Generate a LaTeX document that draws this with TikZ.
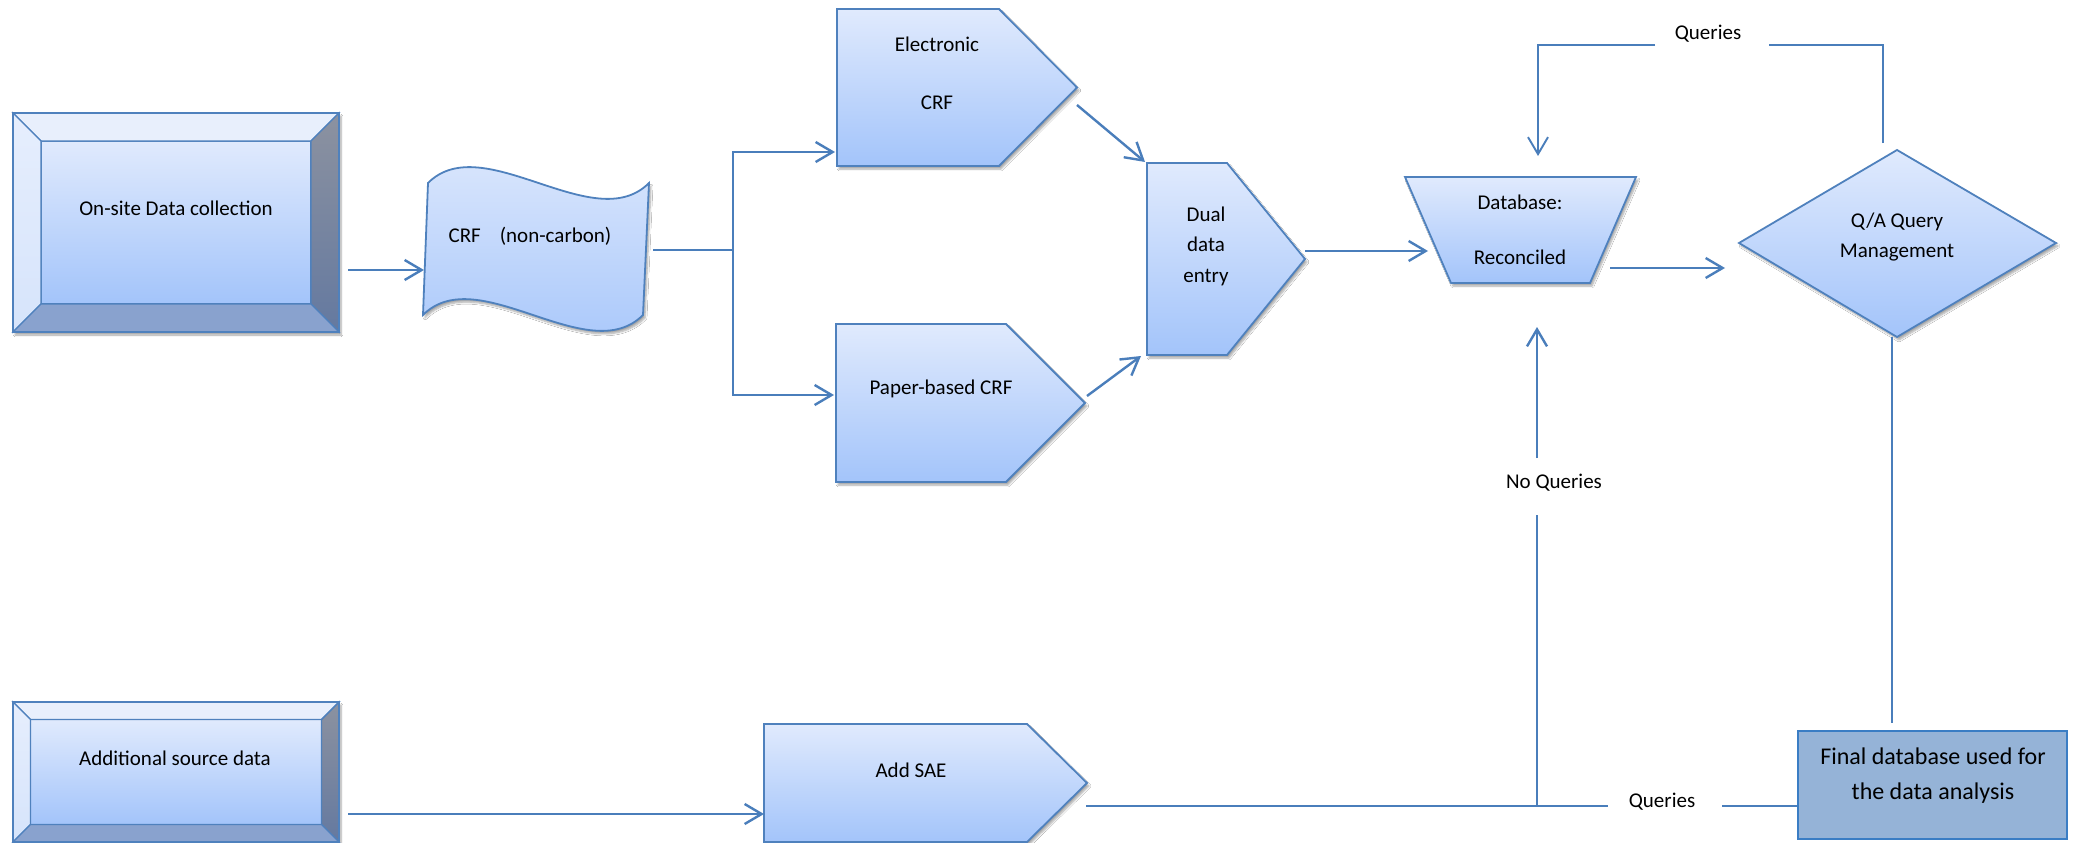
\documentclass[tikz,border=0pt]{standalone}
\usepackage{fontspec}
\setmainfont{Carlito}
\usetikzlibrary{calc,arrows.meta,shadows.blur}

\definecolor{edge}{RGB}{79,129,189}
\definecolor{wire}{RGB}{74,126,187}
\definecolor{fillTop}{RGB}{224,234,253}
\definecolor{fillBot}{RGB}{163,196,250}
\definecolor{bevTop}{RGB}{232,239,252}
\definecolor{bevLeftA}{RGB}{230,238,253}
\definecolor{bevLeftB}{RGB}{214,228,251}
\definecolor{bevRightA}{RGB}{140,146,160}
\definecolor{bevRightB}{RGB}{100,121,160}
\definecolor{bevBot}{RGB}{137,162,206}
\definecolor{finalFill}{RGB}{149,179,215}
\definecolor{finalEdge}{RGB}{58,125,196}

\tikzset{
  softshadow/.style={blur shadow={shadow xshift=2pt,shadow yshift=-3pt,shadow opacity=35,shadow blur steps=6}},
  flowshape/.style={draw=edge,line width=1.8pt,line join=miter,top color=fillTop,bottom color=fillBot,softshadow},
  bevelpart/.style={draw=edge,line width=1.4pt,line join=miter},
  frame/.style={rectangle,inner sep=0pt,outer sep=0pt,draw=none},
  txt/.style={font=\fontsize{21}{30.5}\selectfont,align=center,inner sep=0pt},
  bigtxt/.style={font=\fontsize{24}{35}\selectfont,align=center,inner sep=0pt},
  wireline/.style={draw=wire,line width=2.4pt},
  thinwire/.style={draw=wire,line width=1.9pt},
  flowarrow/.style={wireline,-{Straight Barb[length=17pt,width=20pt]}},
  thinarrow/.style={thinwire,-{Straight Barb[length=17pt,width=20pt]}},
}

% Bevelled box built around an invisible frame node: #1 node name, #2 bevel width
\newcommand{\bevelbox}[2]{%
  \path[softshadow] (#1.north west) rectangle (#1.south east);
  \coordinate (#1-a) at ($(#1.north west)+(#2,#2)$);
  \coordinate (#1-b) at ($(#1.north east)+(-#2,#2)$);
  \coordinate (#1-c) at ($(#1.south east)+(-#2,-#2)$);
  \coordinate (#1-d) at ($(#1.south west)+(#2,-#2)$);
  \path[bevelpart,top color=fillTop,bottom color=fillBot] (#1-a) rectangle (#1-c);
  \path[bevelpart,fill=bevTop] (#1.north west) -- (#1.north east) -- (#1-b) -- (#1-a) -- cycle;
  \path[bevelpart,top color=bevLeftA,bottom color=bevLeftB] (#1.north west) -- (#1-a) -- (#1-d) -- (#1.south west) -- cycle;
  \path[bevelpart,top color=bevRightA,bottom color=bevRightB] (#1.north east) -- (#1.south east) -- (#1-c) -- (#1-b) -- cycle;
  \path[bevelpart,fill=bevBot] (#1.south west) -- (#1-d) -- (#1-c) -- (#1.south east) -- cycle;
  \draw[edge,line width=1.8pt] (#1.north west) rectangle (#1.south east);
}

\begin{document}
\begin{tikzpicture}[x=1pt,y=-1pt]
\useasboundingbox (0,0) rectangle (2078,843);
\fill[white] (0,0) rectangle (2078,843);

% ---------- sources ----------
\node[frame,minimum width=326pt,minimum height=219pt] (onsite) at (176,222.5) {};
\bevelbox{onsite}{28}
\node[txt] (onsite-t) at (176,208) {On-site Data collection};

\node[frame,minimum width=326pt,minimum height=140pt] (addsrc) at (176,772) {};
\bevelbox{addsrc}{17.5}
\node[txt] (addsrc-t) at (175,758) {Additional source data};

% ---------- CRF (wavy sheet) ----------
\path[flowshape] (428,183) .. controls (483,128) and (594,238) .. (649,183)
  -- (643,315) .. controls (588,370) and (478,260) .. (423,315) -- cycle;
\node[txt] (crf) at (530,236) {CRF\hspace{19pt}(non-carbon)};

% ---------- entry forms ----------
\path[flowshape] (837,9) -- (999,9) -- (1077,87.5) -- (999,166) -- (837,166) -- cycle;
\node[txt] (ecrf) at (937,73) {Electronic\\[27.5pt]CRF};

\path[flowshape] (836,324) -- (1006,324) -- (1085,403) -- (1006,482) -- (836,482) -- cycle;
\node[txt] (pcrf) at (941,389) {Paper-based CRF};

\path[flowshape] (1147,163) -- (1227,163) -- (1305,259) -- (1227,355) -- (1147,355) -- cycle;
\node[txt] (dual) at (1206,246) {Dual\\data\\entry};

% ---------- database and QA ----------
\path[flowshape] (1405,177) -- (1636,177) -- (1590,283) -- (1451,283) -- cycle;
\node[txt] (db) at (1520,229.5) {Database:\\[24.5pt]Reconciled};

\path[flowshape] (1739,243) -- (1897,150) -- (2056,243) -- (1897,337) -- cycle;
\node[txt] (qa) at (1897,237) {Q/A Query\\Management};

% ---------- SAE and final database ----------
\path[flowshape] (764,724) -- (1027,724) -- (1087,783) -- (1027,842) -- (764,842) -- cycle;
\node[txt] (sae) at (911,770) {Add SAE};

\node[draw=finalEdge,fill=finalFill,line width=1.8pt,minimum width=269pt,minimum height=108pt,inner sep=0pt] (final) at (1932.5,785) {};
\node[bigtxt] (final-t) at (1933,776) {Final database used for\\the data analysis};

% ---------- labels on connectors ----------
\node[txt] (q-top) at (1708,34) {Queries};
\node[txt] (q-bot) at (1662,802) {Queries};
\node[txt] (noq) at (1554,483) {No Queries};

% ---------- connector end points ----------
\coordinate (onsite-out) at (348,270);
\coordinate (crf-in) at (424,270);
\coordinate (crf-out) at (653,250);
\coordinate (split) at (733,250);
\coordinate (ecrf-in) at (835,152);
\coordinate (pcrf-in) at (834,395);
\coordinate (ecrf-out) at (1077,105);
\coordinate (dual-in-a) at (1145,162);
\coordinate (pcrf-out) at (1087,396);
\coordinate (dual-in-b) at (1141,356);
\coordinate (dual-out) at (1305,251);
\coordinate (db-in) at (1428,251);
\coordinate (db-out) at (1610,268);
\coordinate (qa-in) at (1725,268);
\coordinate (qa-top) at (1883,143);
\coordinate (qt-r) at (1769,45);
\coordinate (qt-l) at (1655,45);
\coordinate (db-top) at (1538,156);
\coordinate (qa-bot) at (1892,337);
\coordinate (final-top) at (1892,723);
\coordinate (sae-out) at (1086,806);
\coordinate (qb-l) at (1608,806);
\coordinate (qb-r) at (1722,806);
\coordinate (nq-foot) at (1537,806);
\coordinate (nq-low) at (1537,515);
\coordinate (nq-high) at (1537,458);
\coordinate (db-bot) at (1537,327);
\coordinate (addsrc-out) at (348,814);
\coordinate (sae-in) at (764,814);

% ---------- connectors ----------
\draw[flowarrow] (onsite-out) -- (crf-in);
\draw[wireline] (crf-out) -- (split);
\draw[flowarrow] (split) |- (ecrf-in);
\draw[flowarrow] (split) |- (pcrf-in);
\draw[flowarrow] (ecrf-out) -- (dual-in-a);
\draw[flowarrow] (pcrf-out) -- (dual-in-b);
\draw[flowarrow] (dual-out) -- (db-in);
\draw[flowarrow] (db-out) -- (qa-in);

\draw[thinwire] (qa-top) |- (qt-r);
\draw[thinarrow] (qt-l) -| (db-top);
\draw[thinwire] (qa-bot) -- (final-top);

\draw[wireline] (sae-out) -- (qb-l);
\draw[wireline] (qb-r) -- (qb-r -| final.west);
\draw[wireline] (nq-foot) -- (nq-low);
\draw[flowarrow] (nq-high) -- (db-bot);
\draw[flowarrow] (addsrc-out) -- (sae-in);
\end{tikzpicture}
\end{document}
